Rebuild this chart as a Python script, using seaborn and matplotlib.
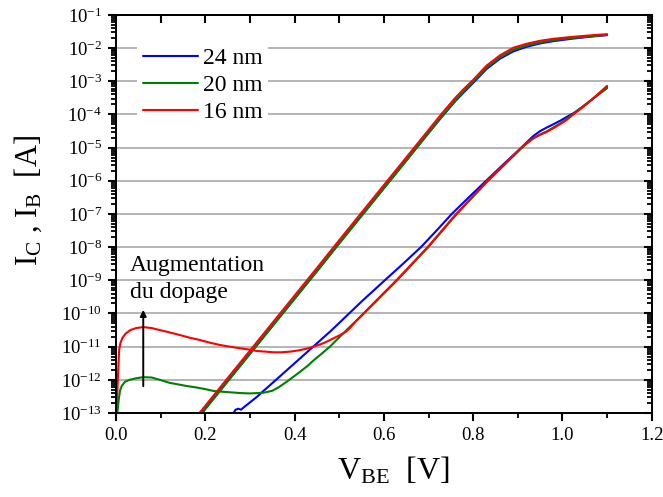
import numpy as np
import pandas as pd
import matplotlib
matplotlib.use('Agg')
import matplotlib.pyplot as plt
from matplotlib.ticker import MultipleLocator, LogLocator, NullFormatter
from matplotlib.lines import Line2D
import seaborn as sns

# ===============================
# Data: V_BE [V], log10(current) [A]
# ===============================
# collector current I_C
ic24_v = [0.192, 0.25, 0.30, 0.35, 0.40, 0.45, 0.50, 0.55, 0.60, 0.65, 0.70, 0.73,
          0.76, 0.78, 0.80, 0.83, 0.86, 0.89, 0.92, 0.95, 0.98, 1.02, 1.06, 1.10]
ic24_log = [-13.0, -12.04, -11.21, -10.38, -9.55, -8.72, -7.88, -7.05, -6.22, -5.39, -4.56, -4.07,
            -3.60, -3.32, -3.05, -2.63, -2.32, -2.10, -1.96, -1.86, -1.79, -1.72, -1.66, -1.61]

ic20_v = [0.193, 0.25, 0.30, 0.35, 0.40, 0.45, 0.50, 0.55, 0.60, 0.65, 0.70, 0.73,
          0.76, 0.78, 0.80, 0.83, 0.86, 0.89, 0.92, 0.95, 0.98, 1.02, 1.06, 1.10]
ic20_log = [-13.0, -12.05, -11.22, -10.39, -9.56, -8.73, -7.89, -7.06, -6.23, -5.40, -4.56, -4.06,
            -3.58, -3.29, -3.02, -2.59, -2.28, -2.05, -1.92, -1.83, -1.76, -1.70, -1.65, -1.60]

ic16_v = [0.187, 0.25, 0.30, 0.35, 0.40, 0.45, 0.50, 0.55, 0.60, 0.65, 0.70, 0.73,
          0.76, 0.78, 0.80, 0.83, 0.86, 0.89, 0.92, 0.95, 0.98, 1.02, 1.06, 1.10]
ic16_log = [-13.0, -11.95, -11.12, -10.29, -9.46, -8.63, -7.79, -6.96, -6.13, -5.30, -4.47, -3.97,
            -3.50, -3.22, -2.96, -2.53, -2.22, -1.99, -1.87, -1.78, -1.72, -1.665, -1.62, -1.58]

# base current I_B
ib24_v = [0.263, 0.268, 0.274, 0.280, 0.287, 0.30, 0.315, 0.328, 0.34, 0.36, 0.38, 0.40,
          0.42, 0.44, 0.46, 0.48, 0.505, 0.55, 0.602, 0.643, 0.683, 0.718, 0.752, 0.79,
          0.829, 0.868, 0.908, 0.92, 0.934, 0.949, 0.964, 0.979, 0.995, 1.009, 1.025, 1.04,
          1.06, 1.08, 1.10]
ib24_log = [-13.0, -12.90, -12.87, -12.90, -12.82, -12.68, -12.52, -12.36, -12.22, -11.98, -11.74, -11.50,
            -11.26, -11.02, -10.78, -10.54, -10.22, -9.64, -9.0, -8.5, -8.0, -7.5, -7.0, -6.5,
            -6.0, -5.5, -5.0, -4.84, -4.66, -4.51, -4.40, -4.30, -4.19, -4.08, -3.96, -3.82,
            -3.62, -3.40, -3.17]

ib20_v = [0.003, 0.006, 0.009, 0.013, 0.020, 0.030, 0.046, 0.061, 0.080, 0.098, 0.12, 0.14,
          0.16, 0.18, 0.20, 0.22, 0.24, 0.26, 0.28, 0.30, 0.33, 0.35, 0.365, 0.382,
          0.40, 0.412, 0.43, 0.442, 0.46, 0.479, 0.50, 0.52, 0.539, 0.58, 0.628, 0.663,
          0.698, 0.730, 0.762, 0.797, 0.832, 0.870, 0.908, 0.92, 0.934, 0.949, 0.964, 0.979,
          0.995, 1.009, 1.025, 1.04, 1.06, 1.08, 1.10]
ib20_log = [-13.0, -12.6, -12.32, -12.18, -12.06, -12.0, -11.95, -11.92, -11.93, -12.0, -12.09, -12.14,
            -12.19, -12.23, -12.28, -12.34, -12.36, -12.38, -12.40, -12.41, -12.39, -12.33, -12.22, -12.06,
            -11.88, -11.76, -11.57, -11.42, -11.22, -11.0, -10.72, -10.45, -10.21, -9.67, -9.02, -8.52,
            -8.02, -7.52, -7.02, -6.52, -6.02, -5.52, -5.02, -4.88, -4.73, -4.61, -4.52, -4.40,
            -4.27, -4.14, -3.98, -3.82, -3.61, -3.41, -3.21]

ib16_v = [0.001, 0.004, 0.007, 0.010, 0.015, 0.022, 0.032, 0.045, 0.061, 0.08, 0.098, 0.12,
          0.143, 0.165, 0.188, 0.21, 0.233, 0.255, 0.278, 0.30, 0.315, 0.335, 0.353, 0.37,
          0.39, 0.41, 0.43, 0.442, 0.46, 0.472, 0.49, 0.502, 0.515, 0.524, 0.539, 0.58,
          0.628, 0.663, 0.698, 0.730, 0.762, 0.797, 0.832, 0.870, 0.908, 0.92, 0.934, 0.949,
          0.964, 0.979, 0.995, 1.009, 1.025, 1.04, 1.06, 1.08, 1.10]
ib16_log = [-13.0, -12.0, -11.1, -10.88, -10.72, -10.6, -10.5, -10.44, -10.41, -10.44, -10.5, -10.57,
            -10.65, -10.73, -10.80, -10.88, -10.95, -11.0, -11.05, -11.09, -11.13, -11.15, -11.17, -11.17,
            -11.15, -11.11, -11.05, -11.0, -10.92, -10.85, -10.73, -10.65, -10.55, -10.44, -10.21, -9.65,
            -9.0, -8.5, -8.0, -7.5, -7.0, -6.5, -6.0, -5.5, -5.0, -4.86, -4.72, -4.62,
            -4.53, -4.42, -4.29, -4.17, -3.99, -3.84, -3.62, -3.38, -3.14]

labels = ['24 nm', '20 nm', '16 nm']
colors = ['#0000ff', '#008000', '#ff0000']
x_ticks = [0.0, 0.2, 0.4, 0.6, 0.8, 1.0, 1.2]
x_ticklabels = ['0.0', '0.2', '0.4', '0.6', '0.8', '1.0', '1.2']

# ===============================
# Style
# ===============================
sns.set_style('ticks')
plt.rcParams['font.family'] = ['Liberation Serif', 'DejaVu Serif']
plt.rcParams['mathtext.fontset'] = 'custom'
plt.rcParams['mathtext.rm'] = 'Liberation Serif'
plt.rcParams['mathtext.it'] = 'Liberation Serif:italic'
plt.rcParams['axes.linewidth'] = 1.3

fig, ax = plt.subplots(figsize=(6.63, 4.97), dpi=100)
fig.subplots_adjust(left=0.175, right=0.983, top=0.970, bottom=0.169)

curves = [
    (ic24_v, ic24_log, ib24_v, ib24_log),
    (ic20_v, ic20_log, ib20_v, ib20_log),
    (ic16_v, ic16_log, ib16_v, ib16_log),
]

for (icv, icl, ibv, ibl), col in zip(curves, colors):
    for v, lg in [(icv, icl), (ibv, ibl)]:
        d = pd.DataFrame({'V': v, 'I': np.power(10.0, lg)})
        sns.lineplot(data=d, x='V', y='I', ax=ax, color=col, lw=1.5,
                     sort=False, estimator=None, legend=False, zorder=3)

XLIM = (0.0, 1.2)
YLIM = (1e-13, 1e-1)
ax.set_yscale('log')
ax.set_xlim(*XLIM)
ax.set_ylim(*YLIM)

ax.set_xticks(x_ticks)
ax.set_xticklabels(x_ticklabels)
ax.xaxis.set_minor_locator(MultipleLocator(0.1))
ax.yaxis.set_major_locator(LogLocator(base=10, numticks=30))
ax.yaxis.set_minor_locator(LogLocator(base=10, subs=np.arange(2, 10) * 1.0, numticks=30))
ax.yaxis.set_minor_formatter(NullFormatter())

ax.grid(True, axis='y', which='major', color='#a8a8a8', linewidth=1.2)
ax.grid(False, axis='x')

ax.tick_params(which='major', direction='out', length=6, width=1.5, color='black',
               labelcolor='black', labelsize=13.5, pad=4)
ax.tick_params(which='minor', direction='out', length=3.5, width=1.3, color='black')

# mirrored ticks on the right and top, pointing inward
axr = ax.twinx()
axr.set_yscale('log')
axr.set_ylim(*YLIM)
axr.yaxis.set_major_locator(LogLocator(base=10, numticks=30))
axr.yaxis.set_minor_locator(LogLocator(base=10, subs=np.arange(2, 10) * 1.0, numticks=30))
axr.tick_params(which='both', direction='in', color='black', labelright=False)
axr.tick_params(which='major', length=6, width=1.5)
axr.tick_params(which='minor', length=3.5, width=1.3)

axt = ax.twiny()
axt.set_xlim(*XLIM)
axt.xaxis.set_major_locator(MultipleLocator(0.2))
axt.xaxis.set_minor_locator(MultipleLocator(0.1))
axt.tick_params(which='both', direction='in', length=6, width=1.5, color='black', labeltop=False)

ax.set_xlabel(r'$\mathrm{V}_{\mathrm{BE}}$  [V]', fontsize=23, color='black')
ax.xaxis.set_label_coords(0.517, -0.105, transform=ax.transAxes)
ax.xaxis.label.set_va('top')
ax.set_ylabel(r'$\mathrm{I}_{\mathrm{C}}$ , $\mathrm{I}_{\mathrm{B}}$  [A]', fontsize=22, color='black')
ax.yaxis.set_label_coords(-0.164, 0.535, transform=ax.transAxes)
ax.yaxis.label.set_va('center')

# annotation
ax.annotate('', xy=(0.061, 10 ** -9.89), xytext=(0.061, 10 ** -12.19),
            arrowprops=dict(arrowstyle='-|>', color='black', lw=1.4, mutation_scale=9,
                            shrinkA=0, shrinkB=0), zorder=4)
ax.text(0.031, 10 ** -8.96, 'Augmentation\ndu dopage', ha='left', va='center',
        fontsize=17, linespacing=1.35, color='black', zorder=4)

handles = [Line2D([], [], color=c, lw=1.5) for c in colors]
leg = ax.legend(handles, labels, loc='upper left', bbox_to_anchor=(0.039, 0.933),
                fontsize=17, frameon=True, framealpha=1, facecolor='white', edgecolor='none',
                fancybox=False, borderpad=0.25, borderaxespad=0, handlelength=2.33,
                handletextpad=0.2, labelspacing=0.23)
leg.set_zorder(5)
for t in leg.get_texts():
    t.set_color('black')

for a in (ax, axr, axt):
    for s in a.spines.values():
        s.set_color('black')
        s.set_linewidth(1.3)

fig.savefig('out.png', dpi=100)
